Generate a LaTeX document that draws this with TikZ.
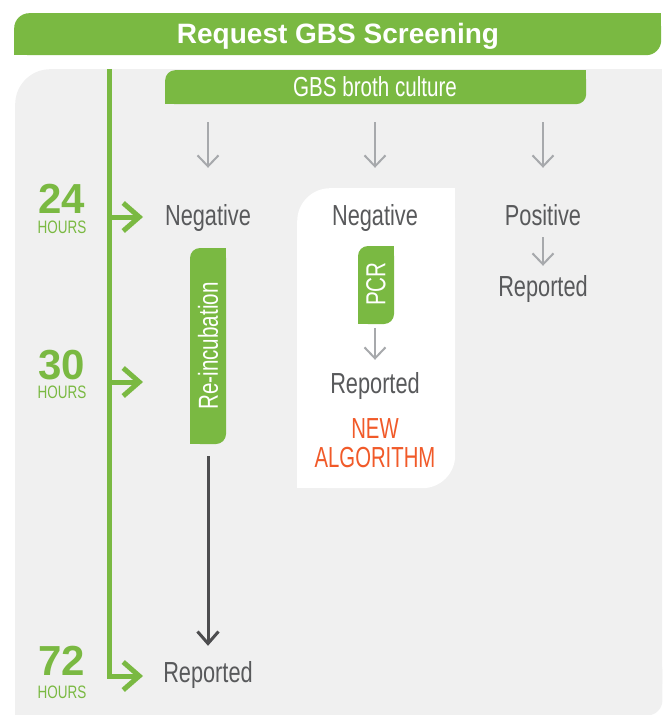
\documentclass[tikz,border=0pt]{standalone}
\usepackage{fontspec}
\setmainfont{Liberation Sans}
\newfontfamily\condf{Liberation Sans}[FakeStretch=0.75]
\newfontfamily\narrf{Liberation Sans}[FakeStretch=0.70]
\newfontfamily\boldf{Liberation Sans}
\usetikzlibrary{arrows.meta}
\definecolor{gbsgreen}{HTML}{7AB942}
\definecolor{bggray}{HTML}{F0F0F0}
\definecolor{tgray}{HTML}{58595B}
\definecolor{agray}{HTML}{A7A9AC}
\definecolor{dgray}{HTML}{4D4D4F}
\definecolor{orng}{HTML}{F15A29}
\tikzset{
  txt/.style={font={\condf\fontsize{29bp}{31bp}\selectfont}, text=tgray, inner sep=0pt, anchor=base},
  neworange/.style={txt, font={\narrf\fontsize{29bp}{31bp}\selectfont}, text=orng},
  wtxt/.style={font={\condf\fontsize{27.5bp}{29bp}\selectfont}, text=white, inner sep=0pt},
  gbox/.style={fill=gbsgreen, rounded corners=10bp, inner sep=0pt, wtxt},
  numtxt/.style={font={\boldf\bfseries\fontsize{42bp}{44bp}\selectfont}, text=gbsgreen, inner sep=0pt, anchor=base},
  hrstxt/.style={font={\condf\fontsize{18bp}{20bp}\selectfont}, text=gbsgreen, inner sep=0pt, anchor=base},
  tline/.style={draw=gbsgreen, line width=5bp},
  tarrow/.style={tline, -{Straight Barb[length=16bp,width=28bp]}},
  garr/.style={draw=agray, line width=2bp, -{Straight Barb[length=11bp,width=21bp]}},
  darr/.style={draw=dgray, line width=3bp, -{Straight Barb[length=12bp,width=21bp]}},
}
\begin{document}
\begin{tikzpicture}[x=1bp,y=-1bp]
\useasboundingbox (0,0) rectangle (664,715);
% header
\node[fill=gbsgreen, rounded corners=15bp, minimum width=647bp, minimum height=42bp, inner sep=0pt, anchor=north west] (hdr) at (14,13) {};
\fill[gbsgreen] (hdr.north east) rectangle ++(-20,20);
\fill[gbsgreen] (hdr.south west) rectangle ++(20,-20);
\node[font={\boldf\bfseries\fontsize{28bp}{30bp}\selectfont}, text=white, inner sep=0pt, anchor=base] (title) at (338,44) {Request GBS Screening};
% gray panel
\node[fill=bggray, rounded corners=35bp, minimum width=647bp, minimum height=646bp, inner sep=0pt, anchor=north west] (panel) at (15,69) {};
\fill[bggray] (panel.north east) rectangle ++(-40,40);
\fill[bggray] (panel.south west) rectangle ++(40,-40);
\fill[bggray, rounded corners=15bp] (panel.south east) rectangle ++(-60,-60);
% white panel
\node[fill=white, rounded corners=33bp, minimum width=158bp, minimum height=300bp, inner sep=0pt, anchor=north west] (newpanel) at (297,188) {};
\fill[white] (newpanel.north east) rectangle ++(-36,36);
\fill[white] (newpanel.south west) rectangle ++(36,-36);
% broth bar
\node[fill=gbsgreen, rounded corners=10bp, minimum width=421bp, minimum height=34bp, inner sep=0pt, anchor=north west] (broth) at (165,70) {};
\fill[gbsgreen] (broth.north east) rectangle ++(-12,12);
\fill[gbsgreen] (broth.south west) rectangle ++(12,-12);
\node[wtxt, anchor=base] (brothtxt) at (375,97) {GBS broth culture};
% timeline
\coordinate (ttop) at (109,69);
\coordinate (tbend) at (109,676);
\coordinate (t72) at (143,676);
\coordinate (j24) at (111.5,217);
\coordinate (e24) at (143,217);
\coordinate (j30) at (111.5,382);
\coordinate (e30) at (143,382);
\draw[tarrow, line join=miter] (ttop) -- (tbend) -- (t72);
\draw[tarrow] (j24) -- (e24);
\draw[tarrow] (j30) -- (e30);
\node[numtxt] (n24) at (62,213) {24};
\node[hrstxt] (h24) at (62,233) {HOURS};
\node[numtxt] (n30) at (62,379) {30};
\node[hrstxt] (h30) at (62,398) {HOURS};
\node[numtxt] (n72) at (62,675) {72};
\node[hrstxt] (h72) at (62,698) {HOURS};
% texts
\node[txt] (neg1) at (208,225) {Negative};
\node[txt] (neg2) at (375,225) {Negative};
\node[txt] (pos) at (543,225) {Positive};
\node[txt] (rep3) at (543,296) {Reported};
\node[txt] (rep2) at (375,393) {Reported};
\node[neworange] (newt) at (375,438) {NEW};
\node[neworange] (algo) at (375,467) {ALGORITHM};
\node[txt] (rep1) at (208,682) {Reported};
% green boxes
\node[gbox, minimum width=36bp, minimum height=196bp] (reinc) at (208,346) {};
\fill[gbsgreen] (reinc.north east) rectangle ++(-12,12);
\fill[gbsgreen] (reinc.south west) rectangle ++(12,-12);
\node[wtxt, rotate=90] (reinctxt) at (208,346) {Re-incubation};
\node[gbox, minimum width=36bp, minimum height=78bp] (pcr) at (376,285) {};
\fill[gbsgreen] (pcr.north east) rectangle ++(-12,12);
\fill[gbsgreen] (pcr.south west) rectangle ++(12,-12);
\node[wtxt, rotate=90] (pcrtxt) at (376,284) {PCR};
% arrows
\draw[garr, shorten <=18bp, shorten >=36bp] (broth.south -| neg1) -- (neg1.north);
\draw[garr, shorten <=18bp, shorten >=36bp] (broth.south -| neg2) -- (neg2.north);
\draw[garr, shorten <=18bp, shorten >=36bp] (broth.south -| pos) -- (pos.north);
\draw[garr, shorten <=12bp, shorten >=9bp] (pos.south) -- (rep3.north);
\draw[garr, shorten <=4bp, shorten >=12bp] (pcr.south -| rep2) -- (rep2.north);
\draw[darr, shorten <=12bp, shorten >=15bp] (reinc.south) -- (rep1.north);
\end{tikzpicture}
\end{document}
